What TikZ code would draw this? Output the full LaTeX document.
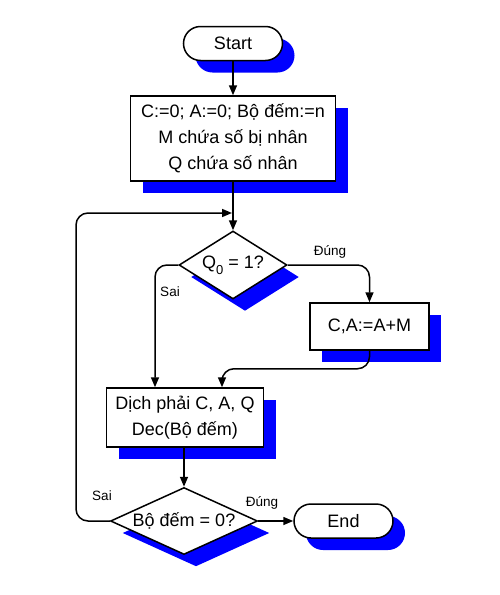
\documentclass[tikz,border=0pt]{standalone}
\usepackage{fontspec}
\setmainfont{Liberation Sans}
\usetikzlibrary{shapes.geometric,shapes.misc,shadows,arrows.meta}
\begin{document}
\begin{tikzpicture}[x=1pt,y=-1pt,
  shad/.style={drop shadow={shadow xshift=12pt,shadow yshift=-12pt,fill=blue,opacity=1}},
  base/.style={draw=black,line width=1.5pt,fill=white,inner sep=0pt,align=center,
    font=\fontsize{18}{26}\selectfont,shad},
  term/.style={base,rounded rectangle,minimum width=99pt,minimum height=34pt},
  proc/.style={base,rectangle},
  dec/.style={base,diamond},
  conn/.style={line width=1.5pt,rounded corners=12pt,-{Triangle[length=10pt,width=8pt]}},
  lbl/.style={font=\fontsize{13.5}{14}\selectfont,inner sep=0pt}]
\useasboundingbox (0,0) rectangle (500,595);
\node[term] (s) at (233,43.5) {Start};
\node[proc,minimum width=205pt,minimum height=85pt] (b1) at (233,138.5)
  {C:=0; A:=0; Bộ đếm:=n\\M chứa số bị nhân\\Q chứa số nhân};
\node[dec,shape aspect=1.59,minimum width=108pt,minimum height=68pt] (q) at (233,265)
  {Q\raisebox{-6pt}{\fontsize{13}{13}\selectfont 0} = 1?};
\node[proc,minimum width=119pt,minimum height=47pt] (ca) at (369.5,326.5) {C,A:=A+M};
\node[proc,minimum width=157pt,minimum height=59pt] (d) at (185,417.5)
  {Dịch phải C, A, Q\\Dec(Bộ đếm)};
\node[dec,shape aspect=2.2,minimum width=147pt,minimum height=67pt] (b2) at (184,521) {Bộ đếm = 0?};
\node[term] (e) at (343.5,521) {End};
\coordinate (lj) at (232,213);
\coordinate (ll) at (76,521);
\draw[conn] (s.south) -- (b1.north);
\draw[conn] (b1.south) -- (q.north);
\draw[conn] (q.east) -| (ca.north);
\draw[conn] (q.west) -| ([xshift=-30pt]d.north);
\draw[conn] (ca.south) -- ++(0,18) -| ([xshift=37pt]d.north);
\draw[conn] (b2.north |- d.south) -- (b2.north);
\draw[conn] (b2.east) -- (e.west);
\draw[conn] (b2.west) -- (ll) |- (lj);
\node[lbl] (l1) at (330,252) {Đúng};
\node[lbl] (l2) at (170,292) {Sai};
\node[lbl] (l3) at (102,496) {Sai};
\node[lbl] (l4) at (262,503) {Đúng};
\end{tikzpicture}
\end{document}
